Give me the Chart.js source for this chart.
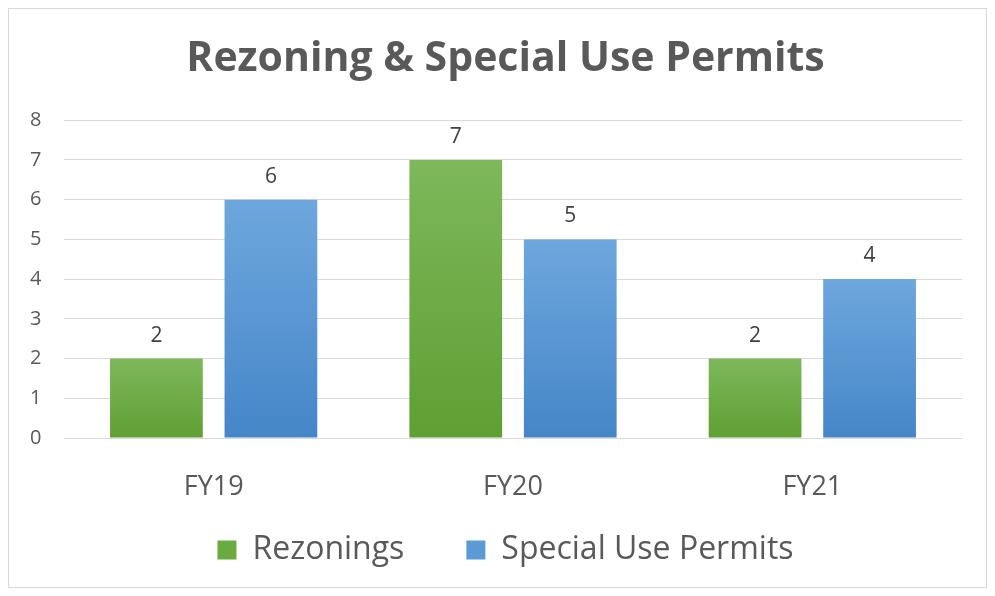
<!DOCTYPE html>
<html>
<head>
<meta charset="utf-8">
<script src="https://cdn.jsdelivr.net/npm/chart.js@4"></script>
<style>
  html, body { margin: 0; padding: 0; background: #fff; }
  #frame {
    position: absolute; left: 8px; top: 8px;
    width: 979px; height: 580px;
    box-sizing: border-box; border: 1px solid #d9d9d9;
  }
</style>
</head>
<body>
<div id="frame"><canvas id="bar-chart"></canvas></div>
<script>
var categories = ['FY19', 'FY20', 'FY21']
var rezonings = [2, 7, 2]
var specialUse = [6, 5, 4]
var yTicks = [0, 1, 2, 3, 4, 5, 6, 7, 8]

var fontFam = "'Open Sans', sans-serif"
var textGray = '#595959'

// per-bar vertical gradient, like the Excel fill
function barGradient(top, bottom) {
    return function(c) {
        var chart = c.chart
        if (!chart.chartArea || c.type !== 'data') return bottom
        var y = chart.scales.y
        var y0 = y.getPixelForValue(0)
        var y1 = y.getPixelForValue(c.raw)
        if (!isFinite(y0) || !isFinite(y1) || y0 === y1) return bottom
        var g = chart.ctx.createLinearGradient(0, y1, 0, y0)
        g.addColorStop(0, top)
        g.addColorStop(1, bottom)
        return g
    }
}

var valueLabels = {
    id: 'valueLabels',
    afterDatasetsDraw: function(chart) {
        var ctx = chart.ctx
        ctx.save()
        ctx.font = '21px ' + fontFam
        ctx.fillStyle = '#404040'
        ctx.textAlign = 'center'
        ctx.textBaseline = 'alphabetic'
        chart.data.datasets.forEach(function(ds, i) {
            chart.getDatasetMeta(i).data.forEach(function(bar, j) {
                ctx.fillText(ds.data[j], bar.x, bar.y - 17)
            })
        })
        ctx.restore()
    }
}

var data = {
    labels: categories,
    datasets: [
        {
            label: 'Rezonings',
            data: rezonings,
            backgroundColor: barGradient('#7db85b', '#5f9f32'),
            borderWidth: 0,
            categoryPercentage: 0.765,
            barPercentage: 0.81
        },
        {
            label: 'Special Use Permits',
            data: specialUse,
            backgroundColor: barGradient('#6ea7dd', '#4586c8'),
            borderWidth: 0,
            categoryPercentage: 0.765,
            barPercentage: 0.81
        }
    ]
}

var legendColors = ['#6aaa40', '#5b9bd5']

var options = {
    type: 'bar',
    data: data,
    plugins: [valueLabels],
    options: {
        responsive: true,
        maintainAspectRatio: false,
        animation: false,
        layout: { padding: { left: 40, right: 24, top: 0, bottom: 11 } },
        scales: {
            x: {
                grid: { display: false },
                border: { display: false },
                // mirrored + negative padding puts the labels below the axis without clipping
                ticks: { color: textGray, font: { family: fontFam, size: 27 }, mirror: true, padding: -66 },
                afterFit: function(axis) { axis.height = 34 }
            },
            y: {
                min: 0,
                max: 8,
                afterBuildTicks: function(axis) {
                    axis.ticks = yTicks.map(function(v) { return { value: v } })
                },
                afterFit: function(axis) { axis.width = 15 },
                grid: { color: '#d9d9d9', drawTicks: false, lineWidth: 1 },
                border: { display: false },
                ticks: { color: textGray, font: { family: fontFam, size: 20 }, mirror: true, padding: -34 }
            }
        },
        plugins: {
            title: {
                display: true,
                text: 'Rezoning & Special Use Permits',
                color: textGray,
                font: { family: fontFam, size: 41, weight: 'bold' },
                padding: { top: 26, bottom: 36 }
            },
            legend: {
                position: 'bottom',
                labels: {
                    color: textGray,
                    font: { family: fontFam, size: 32 },
                    boxWidth: 19,
                    boxHeight: 19,
                    padding: 62,
                    generateLabels: function(chart) {
                        return chart.data.datasets.map(function(ds, i) {
                            return {
                                text: ds.label,
                                fillStyle: legendColors[i],
                                strokeStyle: legendColors[i],
                                lineWidth: 0,
                                fontColor: textGray,
                                datasetIndex: i
                            }
                        })
                    }
                }
            },
            tooltip: { enabled: false }
        }
    }
}

var ctx = document.getElementById('bar-chart').getContext('2d')
var chart = new Chart(ctx, options)
</script>
</body>
</html>
